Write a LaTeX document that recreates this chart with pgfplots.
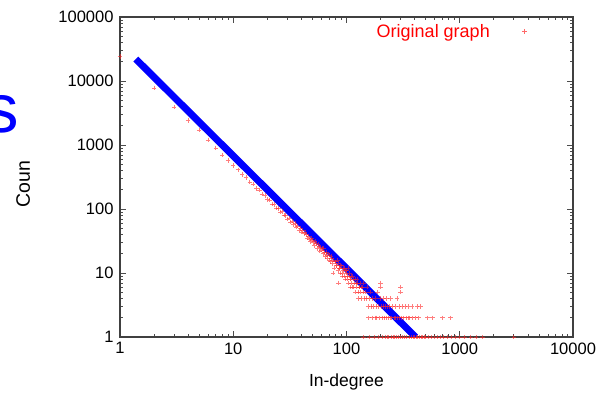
\documentclass[border=0pt]{standalone}
\usepackage{pgfplots}
\pgfplotsset{compat=1.18}
\usepackage{fontspec}
\setmainfont{Liberation Sans}
\definecolor{ptred}{RGB}{255,40,40}
\begin{document}
\begin{tikzpicture}
\useasboundingbox (-120pt,-56pt) rectangle (478pt,337pt);
\begin{axis}[
  scale only axis, width=453pt, height=320pt,
  xmode=log, ymode=log,
  xmin=1, xmax=10000, ymin=1, ymax=100000,
  axis line style={black!75, line width=1.1pt},
  tick style={black!70, line width=0.7pt},
  major tick length=6pt, minor tick length=3pt,
  tick align=inside,
  xtick={1,10,100,1000,10000}, xticklabels={1,10,100,1000,10000},
  ytick={1,10,100,1000,10000,100000}, yticklabels={1,10,100,1000,10000,100000},
  ticklabel style={font=\fontsize{16.5}{19}\selectfont},
  xticklabel style={yshift=-2pt},
  yticklabel style={xshift=-3pt},
  xlabel={In-degree},
  xlabel style={at={(axis description cs:0.5,-0.14)}, anchor=center, font=\fontsize{17.5}{20}\selectfont},
  ylabel={Coun},
  ylabel style={at={(axis description cs:-0.214,0.478)}, anchor=center, font=\fontsize{19.5}{22}\selectfont},
  legend plot pos=right,
  legend image code/.code={\path[draw=none,fill=none] (0pt,0pt) -- (66pt,0pt);
    \path[#1] plot[mark=+, mark size=2.4pt, mark options={draw=ptred, opacity=0.7, line width=0.7pt}] coordinates {(33pt,0pt)};},
  legend style={at={(rel axis cs:1,1)}, anchor=north east, xshift=-12pt, yshift=-3pt,
    draw=none, fill=none, text=red, font=\fontsize{18}{21}\selectfont},
]
\addplot[only marks, mark=+, mark size=2.2pt, color=ptred, opacity=0.6, mark options={line width=0.6pt}] coordinates {
(1,24000)(2,7800)(3,3900)(4,2400)(5,1700)(6,1200)(7,900)(8,700)(9,570)(10,480)
(11,410)(12,345)(13,310)(14,265)(15,245)(16,210)(17,198)(18,172)(19,162)(20,140)
(21,138)(22,120)(23,118)(24,104)(25,102)(26,90)(27,91)(28,80)(29,79)(30,70)
(31,72)(32,63)(33,65)(34,57)(35,59)(36,52)(37,54)(38,47)(39,50)(40,44)
(41,46)(42,41)(43,43)(44,40)(45,35)(46,38)(47,34)(48,31)(49,35)(50,33)
(51,30)(52,27)(53,31)(54,29)(55,24)(56,28)(57,26)(58,22)(59,25)(60,23)
(61,24)(62,20)(63,24)(64,21)(65,18)(66,21)(67,19)(68,17)(69,20)(70,19)
(71,16)(72,15)(73,18)(74,17)(75,14)(76,10)(77,16)(78,12)(79,15)(80,15)
(81,13)(82,13)(83,16)(84,11)(85,14)(85,7)(86,12)(87,12)(88,10)(89,13)
(90,13)(91,10)(92,9)(93,12)(94,11)(95,12)(96,9)(97,8)(98,11)(99,10)
(100,11)(101,8)(102,9)(103,12)(104,7)(105,9)(106,10)(107,8)(108,8)(108,6)
(110,9)(111,7)(112,6)(113,9)(115,8)(116,6)(118,7)(119,8)(120,5)(121,7)
(123,6)(124,8)(125,7)(126,5)(128,4)(129,6)(130,6)(132,7)(133,5)(135,4)
(136,6)(138,6)(140,5)(141,1)(142,7)(145,4)(147,5)(150,4)(152,6)(155,3)
(157,2)(160,4)(160,1)(163,5)(165,3)(168,2)(170,4)(172,3)(175,1)(178,2)
(180,4)(182,3)(185,2)(188,5)(190,3)(192,1)(195,2)(198,4)(200,7)(200,6)
(203,3)(205,1)(208,2)(210,3)(212,4)(215,2)(218,1)(220,3)(223,2)(226,4)
(228,1)(230,3)(233,2)(236,1)(240,3)(242,2)(245,4)(248,1)(250,2)(255,3)
(258,1)(262,2)(265,1)(270,3)(272,2)(276,1)(280,4)(283,2)(286,1)(290,3)
(295,2)(298,1)(300,6)(300,5)(305,2)(310,3)(312,1)(318,2)(325,1)(330,3)
(335,2)(340,1)(348,2)(350,3)(355,1)(362,2)(370,1)(380,3)(382,2)(388,1)
(400,1)(408,2)(415,1)(420,3)(425,1)(432,2)(440,1)(450,3)(455,1)(470,1)
(485,1)(500,1)(521,2)(530,1)(560,1)(575,2)(600,1)(640,1)(680,1)(707,2)
(720,1)(780,1)(830,2)(850,1)(920,1)(1000,1)(1100,1)(1250,1)(1400,1)(1590,1)
(3000,1)
};
\addlegendentry{Original graph}
\addplot[blue, line width=7pt, forget plot] coordinates {(1.38,22000) (407,1)};
\end{axis}
\node[anchor=base east, inner sep=0pt, text=blue, font=\fontsize{69}{70}\selectfont] at (-101pt,204pt) {s};
\end{tikzpicture}
\end{document}
